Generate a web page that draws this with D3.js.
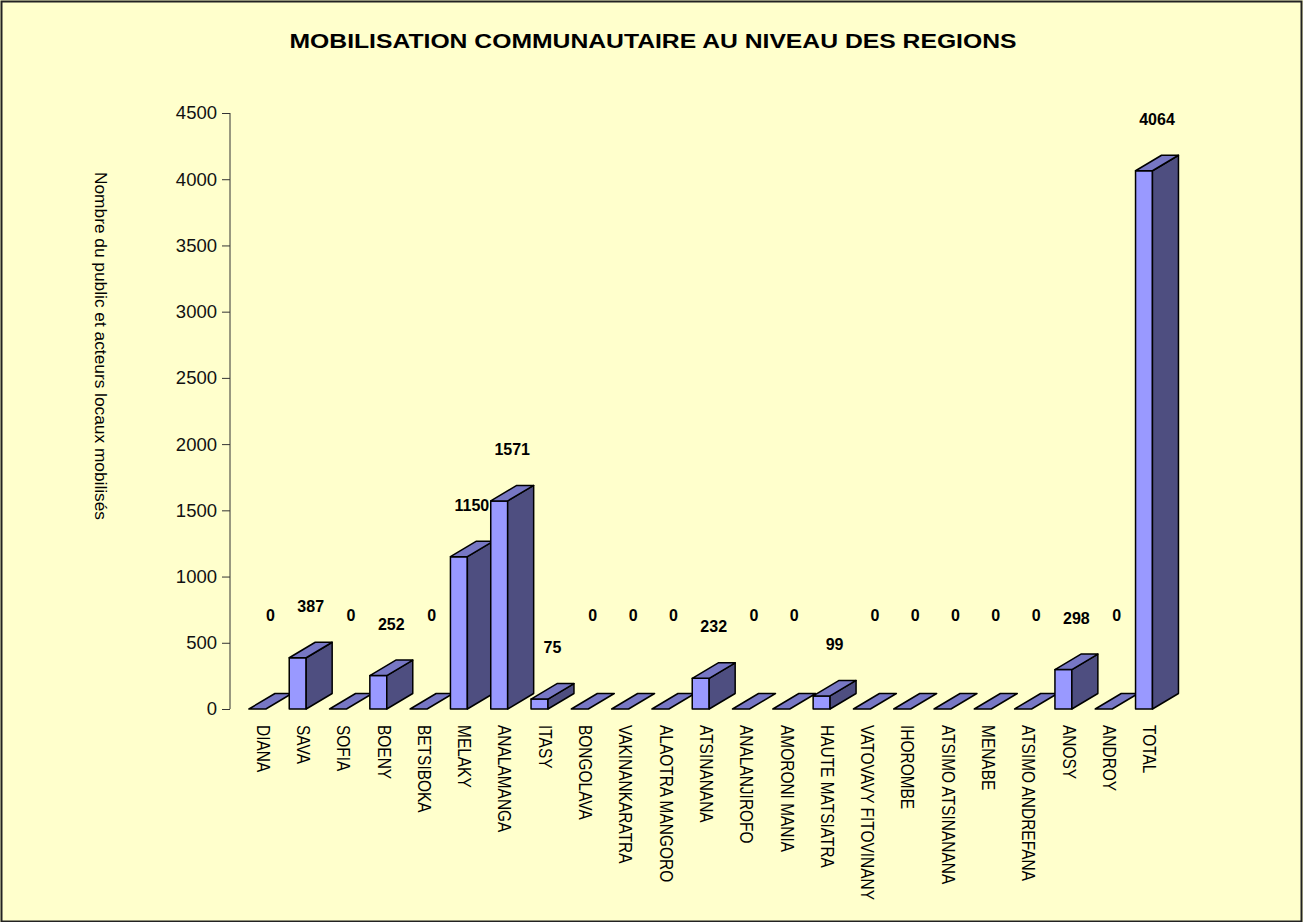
<!DOCTYPE html>
<html lang="fr">
<head>
<meta charset="UTF-8">
<script src="https://cdnjs.cloudflare.com/ajax/libs/d3/7.8.5/d3.min.js"></script>
<style>
  html, body { margin: 0; padding: 0; background: #FFFFCC; }
  svg { display: block; font-family: Arial, "Liberation Sans", sans-serif; }
</style>
</head>
<body>
<svg id="chart" width="1303" height="922"></svg>
<script>
// data
const regions = ['DIANA', 'SAVA', 'SOFIA', 'BOENY', 'BETSIBOKA', 'MELAKY', 'ANALAMANGA', 'ITASY',
  'BONGOLAVA', 'VAKINANKARATRA', 'ALAOTRA MANGORO', 'ATSINANANA', 'ANALANJIROFO', 'AMORONI MANIA',
  'HAUTE MATSIATRA', 'VATOVAVY FITOVINANY', 'IHOROMBE', 'ATSIMO ATSINANANA', 'MENABE',
  'ATSIMO ANDREFANA', 'ANOSY', 'ANDROY', 'TOTAL'];
const mobilises = [0, 387, 0, 252, 0, 1150, 1571, 75, 0, 0, 0, 232, 0, 0, 99, 0, 0, 0, 0, 0, 298, 0, 4064];
const yTicks = [0, 500, 1000, 1500, 2000, 2500, 3000, 3500, 4000, 4500];

const title = 'MOBILISATION COMMUNAUTAIRE AU NIVEAU DES REGIONS';
const yTitle = 'Nombre du public et acteurs locaux mobilisés';

const data = regions.map((r, i) => ({ region: r, value: mobilises[i] }));

const W = 1303, H = 922;
const svg = d3.select('#chart');

// border
svg.append('rect')
  .attr('x', 1.5).attr('y', 1.5)
  .attr('width', W - 3).attr('height', H - 2)
  .attr('fill', '#FFFFCC')
  .attr('stroke', '#222').attr('stroke-width', 2);

const x = d3.scaleBand().domain(regions).range([230, 230 + 23 * 40.3]).padding(0);
const y = d3.scaleLinear().domain([0, 4500]).range([709, 113]);

const bw = x.bandwidth();
const frontOff = bw * 0.47, frontW = bw * 0.42;
const dx = 26, dy = 15.5;

// title
svg.append('text')
  .attr('x', 653).attr('y', 48)
  .attr('text-anchor', 'middle')
  .attr('font-size', 21).attr('font-weight', 'bold')
  .attr('textLength', 727).attr('lengthAdjust', 'spacingAndGlyphs')
  .text(title);

// y axis
const yAxis = svg.append('g')
  .attr('transform', 'translate(230,0)')
  .call(d3.axisLeft(y).tickValues(yTicks).tickSize(8).tickPadding(5).tickFormat(d3.format('d')));
yAxis.select('.domain').attr('stroke', '#333').attr('d', `M0,${y(0)}V${y(4500)}`);
yAxis.selectAll('.tick line').attr('stroke', '#333');
yAxis.selectAll('.tick text')
  .attr('font-size', 18.5).attr('fill', '#111')
  .attr('font-family', 'Arial, "Liberation Sans", sans-serif');

// y title
svg.append('text')
  .attr('transform', 'translate(99,172) rotate(90)')
  .attr('dominant-baseline', 'middle')
  .attr('font-size', 16)
  .attr('textLength', 348).attr('lengthAdjust', 'spacingAndGlyphs')
  .text(yTitle);

// 3d bars
const bars = svg.append('g').selectAll('g.bar')
  .data(data).enter()
  .append('g').attr('class', 'bar');

bars.each(function (d) {
  const g = d3.select(this);
  const x0 = x(d.region) + frontOff, x1 = x0 + frontW;
  const y0 = y(0), yt = y(d.value);
  const line = d3.line();
  if (d.value > 0) {
    // front
    g.append('path')
      .attr('d', line([[x0, y0], [x1, y0], [x1, yt], [x0, yt]]) + 'Z')
      .attr('fill', '#9999FF');
    // side
    g.append('path')
      .attr('d', line([[x1, y0], [x1 + dx, y0 - dy], [x1 + dx, yt - dy], [x1, yt]]) + 'Z')
      .attr('fill', '#4E4E80');
  }
  // top
  g.append('path')
    .attr('d', line([[x0, yt], [x1, yt], [x1 + dx, yt - dy], [x0 + dx, yt - dy]]) + 'Z')
    .attr('fill', '#7777C4');
});
bars.selectAll('path')
  .attr('stroke', '#000').attr('stroke-width', 1.5).attr('stroke-linejoin', 'round');

// value labels
svg.append('g').selectAll('text')
  .data(data).enter()
  .append('text')
  .attr('x', d => x(d.region) + frontOff + frontW / 2 + dx / 2)
  .attr('y', d => y(d.value) - (d.value === 0 ? 92 : 50))
  .attr('text-anchor', 'middle')
  .attr('dominant-baseline', 'middle')
  .attr('font-size', 16).attr('font-weight', 'bold')
  .text(d => d.value);

// category labels
svg.append('g').selectAll('text')
  .data(data).enter()
  .append('text')
  .attr('transform', d => `translate(${x(d.region) + frontOff + frontW / 2 + 4},725) rotate(90) scale(0.86,1)`)
  .attr('dominant-baseline', 'middle')
  .attr('font-size', 18)
  .text(d => d.region);
</script>
</body>
</html>
